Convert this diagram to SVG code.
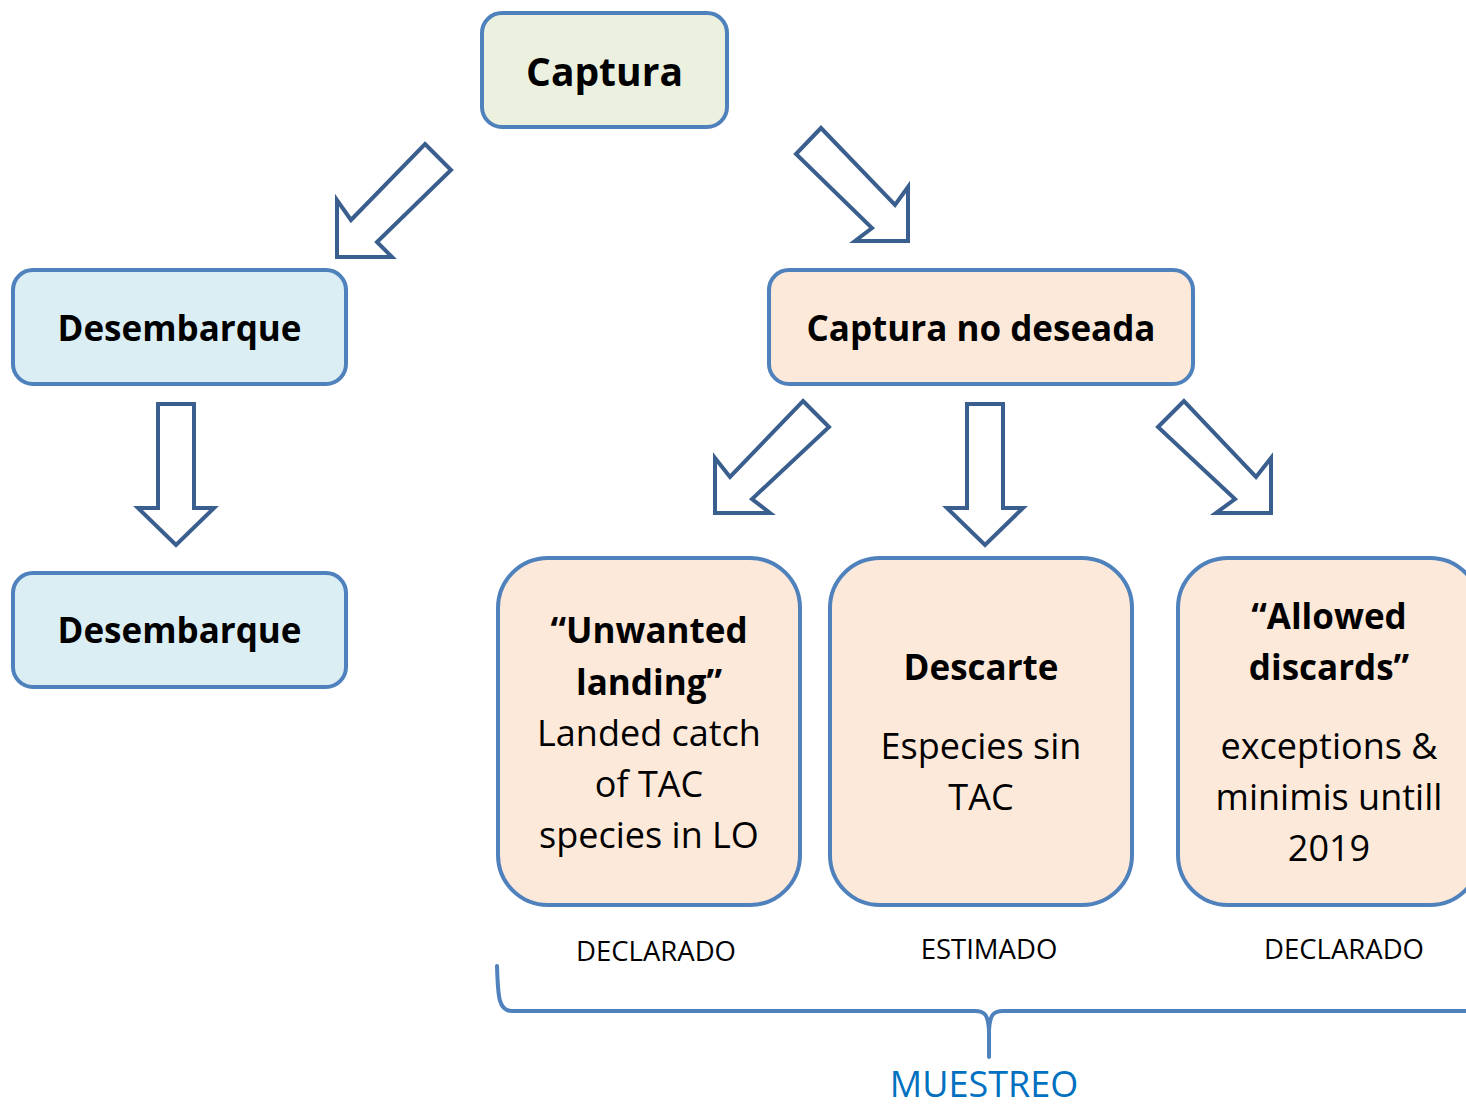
<svg xmlns="http://www.w3.org/2000/svg" width="1466" height="1109" viewBox="0 0 1466 1109">
<style>
.box{stroke:#4F81BD;stroke-width:4}
.g{fill:#EBF1DE}
.b{fill:#DBEEF4}
.o{fill:#FDE9D9}
.arr{fill:#FFFFFF;stroke:#3A5F8E;stroke-width:4;stroke-linejoin:miter}
.t{font-family:"Open Sans","Liberation Sans",sans-serif;fill:#000;text-anchor:middle}
.bd{font-weight:bold;font-size:35px}
.rg{font-size:36px}
.lbl{font-size:27.5px}
.brace{fill:none;stroke:#4F81BD;stroke-width:4;stroke-linecap:round;stroke-linejoin:round}
</style>
<rect width="1466" height="1109" fill="#FFFFFF"/>
<g id="captura">
<rect class="box g" x="482" y="13" width="245" height="114" rx="20"/>
<text class="t" x="604.5" y="86" font-size="39" font-weight="bold">Captura</text>
</g>
<g id="desembarque1">
<rect class="box b" x="13" y="270" width="333" height="114" rx="20"/>
<text class="t bd" x="179.5" y="341">Desembarque</text>
</g>
<g id="desembarque2">
<rect class="box b" x="13" y="573" width="333" height="114" rx="20"/>
<text class="t bd" x="179.5" y="643">Desembarque</text>
</g>
<g id="captura-no-deseada">
<rect class="box o" x="769" y="270" width="424" height="114" rx="20"/>
<text class="t bd" x="981" y="341">Captura no deseada</text>
</g>
<g id="unwanted-landing">
<rect class="box o" x="498" y="558" width="302" height="347" rx="50"/>
<text class="t bd" x="649" y="643">“Unwanted</text>
<text class="t bd" x="649" y="695">landing”</text>
<text class="t rg" x="649" y="746">Landed catch</text>
<text class="t rg" x="649" y="797">of TAC</text>
<text class="t rg" x="649" y="848">species in LO</text>
</g>
<g id="descarte">
<rect class="box o" x="830" y="558" width="302" height="347" rx="50"/>
<text class="t bd" x="981" y="680">Descarte</text>
<text class="t rg" x="981" y="759">Especies sin</text>
<text class="t rg" x="981" y="810">TAC</text>
</g>
<g id="allowed-discards">
<rect class="box o" x="1178" y="558" width="302" height="347" rx="50"/>
<text class="t bd" x="1329" y="629">“Allowed</text>
<text class="t bd" x="1329" y="680">discards”</text>
<text class="t rg" x="1329" y="759">exceptions &amp;</text>
<text class="t rg" x="1329" y="810">minimis untill</text>
<text class="t rg" x="1329" y="861">2019</text>
</g>
<g id="labels">
<text class="t lbl" x="656" y="961">DECLARADO</text>
<text class="t lbl" x="989" y="959">ESTIMADO</text>
<text class="t lbl" x="1344" y="959">DECLARADO</text>
<text class="t" x="984" y="1097" font-size="36" style="fill:#0070C0">MUESTREO</text>
</g>
<g id="connectors">
<polygon class="arr" points="425,144 451,170 377,242 392,257 337,257 337,200 351,220"/>
<polygon class="arr" points="821,128 796,154 872,228 855,241 908,241 908,187 895,205"/>
<polygon class="arr" points="158,404 194,404 194,508 214,508 176,545 138,508 158,508"/>
<polygon class="arr" points="803,401 829,427 752,499 770,513 715,513 715,458 730,477"/>
<polygon class="arr" points="967,404 1003,404 1003,508 1023,508 985,545 947,508 967,508"/>
<polygon class="arr" points="1184,401 1158,427 1235,499 1216,513 1271,513 1271,458 1256,477"/>
<path class="brace" d="M497,966 C498,995 498,1011 512,1011 L975,1011 C985,1011 988,1015 989,1030 L989,1057 M989,1030 C990,1015 993,1011 1003,1011 L1480,1011"/>
</g>
</svg>
